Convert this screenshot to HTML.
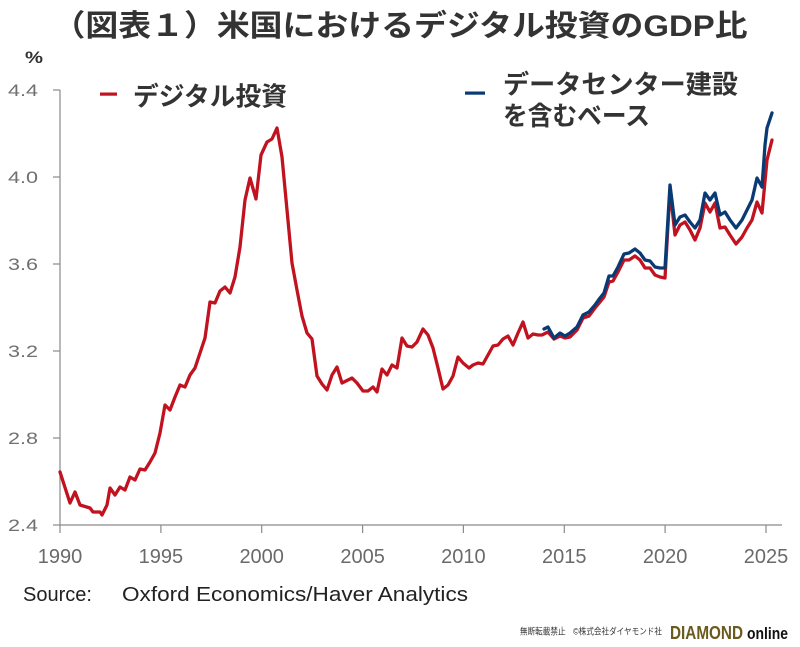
<!DOCTYPE html>
<html>
<head>
<meta charset="utf-8">
<style>
  html, body { margin:0; padding:0; background:#fff; }
  svg { display:block; }
  text { font-family: "Liberation Sans", "Noto Sans CJK JP", sans-serif; }
</style>
</head>
<body>
<svg width="800" height="647" viewBox="0 0 800 647" xmlns="http://www.w3.org/2000/svg">
  <rect x="0" y="0" width="800" height="647" fill="#ffffff"/>

  <!-- Title -->
  <text x="400" y="26.5" text-anchor="middle" dominant-baseline="central" font-size="30" font-weight="bold" fill="#333" textLength="695" lengthAdjust="spacingAndGlyphs">（図表１）米国におけるデジタル投資のGDP比</text>

  <!-- % unit -->
  <text x="25" y="63" font-size="17" font-weight="bold" fill="#333" textLength="18" lengthAdjust="spacingAndGlyphs">%</text>

  <!-- Legend -->
  <rect x="100" y="92.5" width="17" height="3.2" fill="#c1121f"/>
  <text x="133" y="96.5" dominant-baseline="central" font-size="26" font-weight="bold" fill="#333" textLength="154" lengthAdjust="spacingAndGlyphs">デジタル投資</text>
  <rect x="465" y="91.5" width="20" height="3.2" fill="#0a3a73"/>
  <text x="503" y="84.5" dominant-baseline="central" font-size="26" font-weight="bold" fill="#333" textLength="235" lengthAdjust="spacingAndGlyphs">データセンター建設</text>
  <text x="503" y="116" dominant-baseline="central" font-size="26" font-weight="bold" fill="#333" textLength="147" lengthAdjust="spacingAndGlyphs">を含むベース</text>

  <!-- Axes -->
  <g stroke="#8a8a8a" stroke-width="1.2" fill="none">
    <line x1="60" y1="90" x2="60" y2="525"/>
    <line x1="60" y1="525" x2="782" y2="525"/>
    <line x1="53" y1="90" x2="60" y2="90"/>
    <line x1="53" y1="177" x2="60" y2="177"/>
    <line x1="53" y1="264" x2="60" y2="264"/>
    <line x1="53" y1="351" x2="60" y2="351"/>
    <line x1="53" y1="438" x2="60" y2="438"/>
    <line x1="53" y1="525" x2="60" y2="525"/>
    <line x1="60" y1="525" x2="60" y2="533"/>
    <line x1="160.9" y1="525" x2="160.9" y2="533"/>
    <line x1="261.7" y1="525" x2="261.7" y2="533"/>
    <line x1="362.6" y1="525" x2="362.6" y2="533"/>
    <line x1="463.4" y1="525" x2="463.4" y2="533"/>
    <line x1="564.3" y1="525" x2="564.3" y2="533"/>
    <line x1="665.1" y1="525" x2="665.1" y2="533"/>
    <line x1="766" y1="525" x2="766" y2="533"/>
  </g>

  <!-- Y labels -->
  <g font-size="17" fill="#707070" text-anchor="end">
    <text x="38" y="96" textLength="30" lengthAdjust="spacingAndGlyphs">4.4</text>
    <text x="38" y="183" textLength="30" lengthAdjust="spacingAndGlyphs">4.0</text>
    <text x="38" y="270" textLength="30" lengthAdjust="spacingAndGlyphs">3.6</text>
    <text x="38" y="357" textLength="30" lengthAdjust="spacingAndGlyphs">3.2</text>
    <text x="38" y="444" textLength="30" lengthAdjust="spacingAndGlyphs">2.8</text>
    <text x="38" y="531" textLength="30" lengthAdjust="spacingAndGlyphs">2.4</text>
  </g>

  <!-- X labels -->
  <g font-size="20" fill="#6a6a6a" text-anchor="middle">
    <text x="60" y="563">1990</text>
    <text x="160.9" y="563">1995</text>
    <text x="261.7" y="563">2000</text>
    <text x="362.6" y="563">2005</text>
    <text x="463.4" y="563">2010</text>
    <text x="564.3" y="563">2015</text>
    <text x="665.1" y="563">2020</text>
    <text x="766" y="563">2025</text>
  </g>

  <!-- Series -->
  <polyline fill="none" stroke="#c1121f" stroke-width="3.3" stroke-linejoin="round" stroke-linecap="round"
    points="60,472 70,503 75,492 80,505 90,508 93,512 100,512 102,515 107,505 110,488 115,495 120,487 125,490 130,477 135,480 140,469 145,470 150,462 155,453 160,433 165,405 170,410 175,397 180,385 185,387 190,375 195,368 200,353 205,338 210,302 215,303 220,291 225,287 230,293 235,277 240,247 245,200 250,178 256,199 261,155 267,142 272,139 277,128 282,157 287,210 292,263 297,290 302,316 307,333 312,339 317,376 322,384 327,390 332,375 337,367 342,383 352,378 357,383 363,391 368,391 373,387 377,392 382,369 387,375 392,365 397,368 402,338 407,346 412,347 417,342 423,329 428,335 433,348 438,368 443,389 448,385 453,376 458,357 463,363 469,368 473,365 478,363 483,364 488,355 493,346 498,345 503,339 508,336 513,345 518,333 523,322 528,338 533,334 538,335 542,335 548,332 554,339 560,336 565,338 570,337 577,330 583,318 589,316 595,308 600,302 604,297 609,282 613,281 618,272 624,260 629,260 635,256 640,260 645,268 650,268 655,275 660,277 665,278 670,190 675,235 680,225 685,222 690,230 695,240 700,228 705,203 710,212 715,203 720,228 725,227 730,235 736,244 742,237 747,228 752,220 757,202 762,213 767,160 772,140"/>
  <polyline fill="none" stroke="#0a3a73" stroke-width="3.3" stroke-linejoin="round" stroke-linecap="round"
    points="544,329 548,327 554,338 560,333 565,336 570,333 577,327 583,315 589,312 595,305 600,298 604,293 609,276 613,276 618,267 624,254 629,253 635,249 640,253 645,260 650,261 655,267 660,268 665,268 670,185 675,225 680,217 685,215 690,222 695,228 700,220 705,193 710,200 715,193 720,215 725,212 730,220 736,228 742,220 747,210 752,200 757,178 762,187 765,145 767,128 772,113"/>

  <!-- Source -->
  <text x="23" y="601" font-size="20" fill="#222">Source:</text>
  <text x="122" y="601" font-size="20" fill="#222" textLength="346" lengthAdjust="spacingAndGlyphs">Oxford Economics/Haver Analytics</text>

  <!-- Footer -->
  <text x="520" y="634.5" font-size="9" fill="#333" textLength="142" lengthAdjust="spacingAndGlyphs">無断転載禁止　©株式会社ダイヤモンド社</text>
  <text x="670" y="639" font-size="18.5" font-weight="bold" fill="#6b5a1e" textLength="73" lengthAdjust="spacingAndGlyphs">DIAMOND</text>
  <text x="747" y="639" font-size="17" font-weight="bold" fill="#111" textLength="41" lengthAdjust="spacingAndGlyphs">online</text>
</svg>
</body>
</html>
